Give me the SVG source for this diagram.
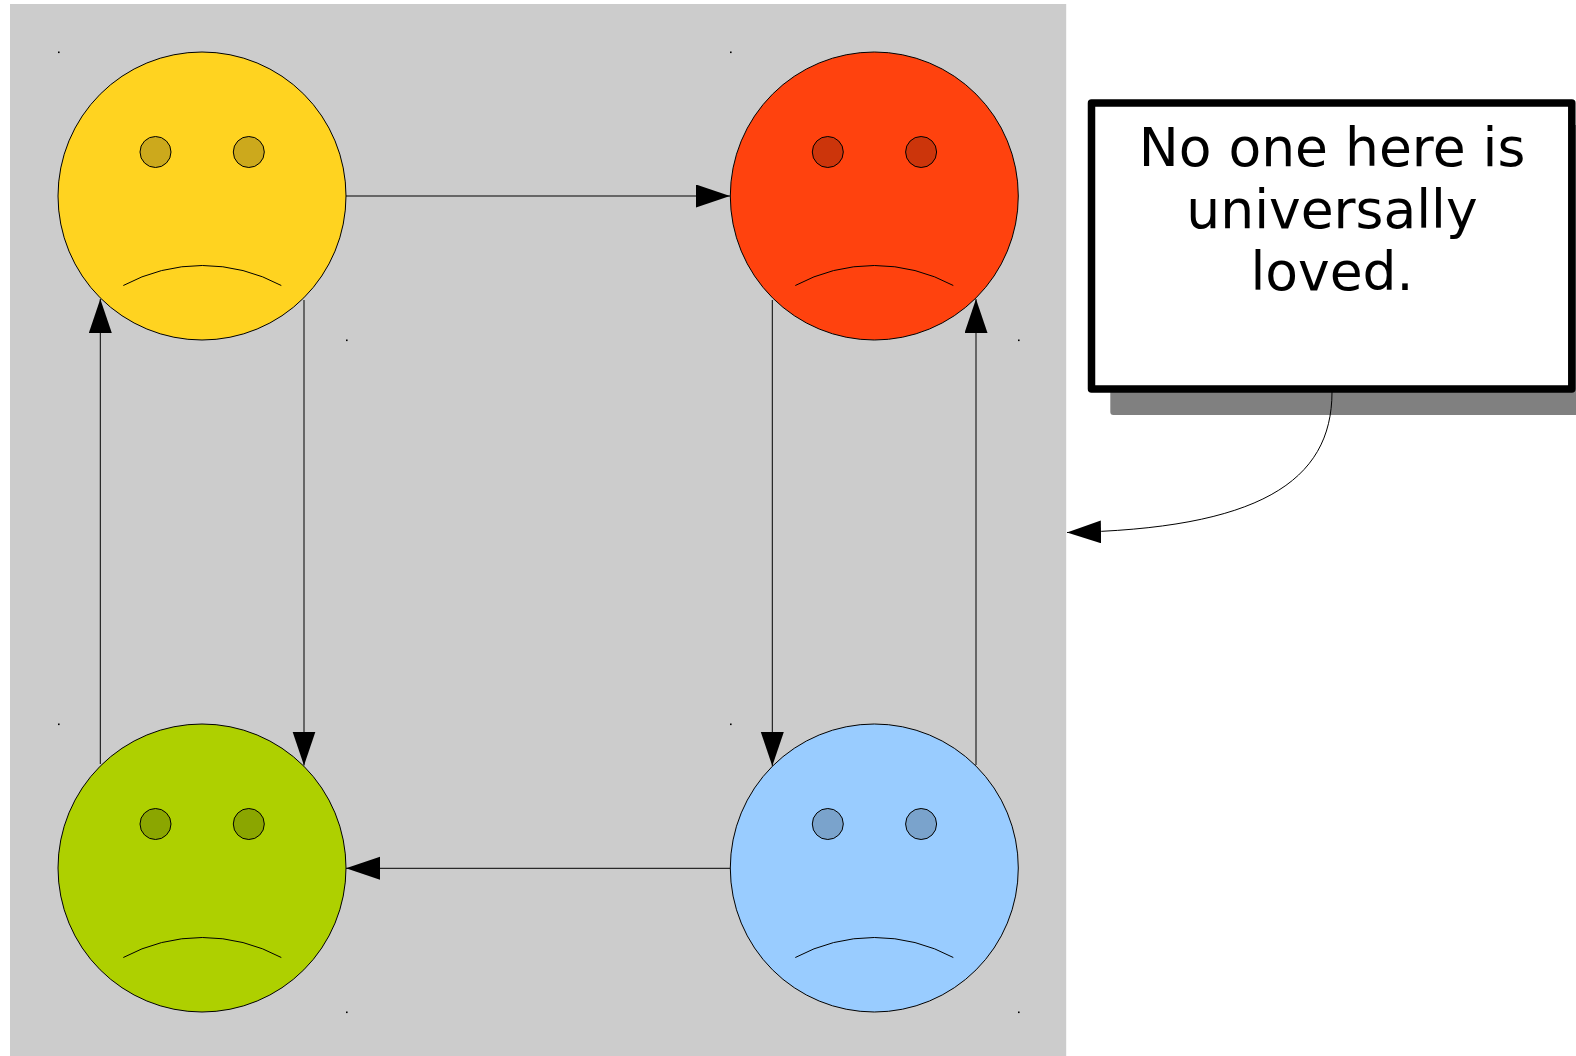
<svg xmlns="http://www.w3.org/2000/svg" width="1576" height="1056" viewBox="0 0 1576 1056">
<style>
.face{stroke:#000;stroke-width:1}
.eye{stroke:#000;stroke-width:1}
.mouth{fill:none;stroke:#000;stroke-width:1}
.dot{fill:#000}
.conn{fill:none;stroke:#000;stroke-width:1;marker-end:url(#arrow)}
.label{font-family:"DejaVu Sans",sans-serif;font-size:53.500px;text-anchor:middle;fill:#000}
</style>
<defs>
<marker id="arrow" markerUnits="userSpaceOnUse" markerWidth="36" markerHeight="24" refX="34" refY="11.500" orient="auto"><path d="M0 0L34 11.500L0 23Z" fill="#000"/></marker>
<g id="dots"><rect x="-0.5" y="-0.5" width="1.6" height="1.6" class="dot"/><rect x="287.5" y="287.5" width="1.6" height="1.6" class="dot"/></g>
</defs>
<rect x="10" y="4" width="1056.200" height="1052" fill="#cccccc"/>
<g id="face-yellow">
<use href="#dots" x="58.500" y="52"/>
<circle class="face" cx="202" cy="196" r="144" fill="#ffd320"/>
<circle class="eye" cx="155.500" cy="152" r="15.500" fill="#cca91c"/>
<circle class="eye" cx="248.800" cy="152" r="15.500" fill="#cca91c"/>
<path class="mouth" d="M123.300 285.500A166 166 0 0 1 281.300 285.500"/>
</g>
<g id="face-red">
<use href="#dots" x="730.500" y="52"/>
<circle class="face" cx="874.300" cy="196" r="144" fill="#ff420e"/>
<circle class="eye" cx="827.800" cy="152" r="15.500" fill="#cc350b"/>
<circle class="eye" cx="921.100" cy="152" r="15.500" fill="#cc350b"/>
<path class="mouth" d="M795.300 285.500A166 166 0 0 1 953.300 285.500"/>
</g>
<g id="face-green">
<use href="#dots" x="58.500" y="724"/>
<circle class="face" cx="202" cy="868" r="144" fill="#aed000"/>
<circle class="eye" cx="155.500" cy="824" r="15.500" fill="#8ba600"/>
<circle class="eye" cx="248.800" cy="824" r="15.500" fill="#8ba600"/>
<path class="mouth" d="M123.300 957.500A166 166 0 0 1 281.300 957.500"/>
</g>
<g id="face-blue">
<use href="#dots" x="730.500" y="724"/>
<circle class="face" cx="874.300" cy="868" r="144" fill="#99ccff"/>
<circle class="eye" cx="827.800" cy="824" r="15.500" fill="#7aa3cc"/>
<circle class="eye" cx="921.100" cy="824" r="15.500" fill="#7aa3cc"/>
<path class="mouth" d="M795.300 957.500A166 166 0 0 1 953.300 957.500"/>
</g>
<g id="note">
<rect x="1110.300" y="125" width="470" height="290" rx="3" fill="#808080"/>
<rect x="1091.500" y="103" width="480.300" height="285.900" fill="#fff" stroke="#000" stroke-width="7.500" stroke-linejoin="round"/>
<text class="label" x="1332" y="166">No one here is</text>
<text class="label" x="1332" y="228">universally</text>
<text class="label" x="1332" y="290">loved.</text>
</g>
<g id="connectors">
<path class="conn" d="M346 196H730"/>
<path class="conn" d="M304 300V765.500"/>
<path class="conn" d="M100.300 764V299"/>
<path class="conn" d="M772.300 300V766"/>
<path class="conn" d="M976 765V299"/>
<path class="conn" d="M730 868.300H346"/>
<path class="conn" d="M1332 392C1332 482 1258 529 1067 532.500"/>
</g>
</svg>
